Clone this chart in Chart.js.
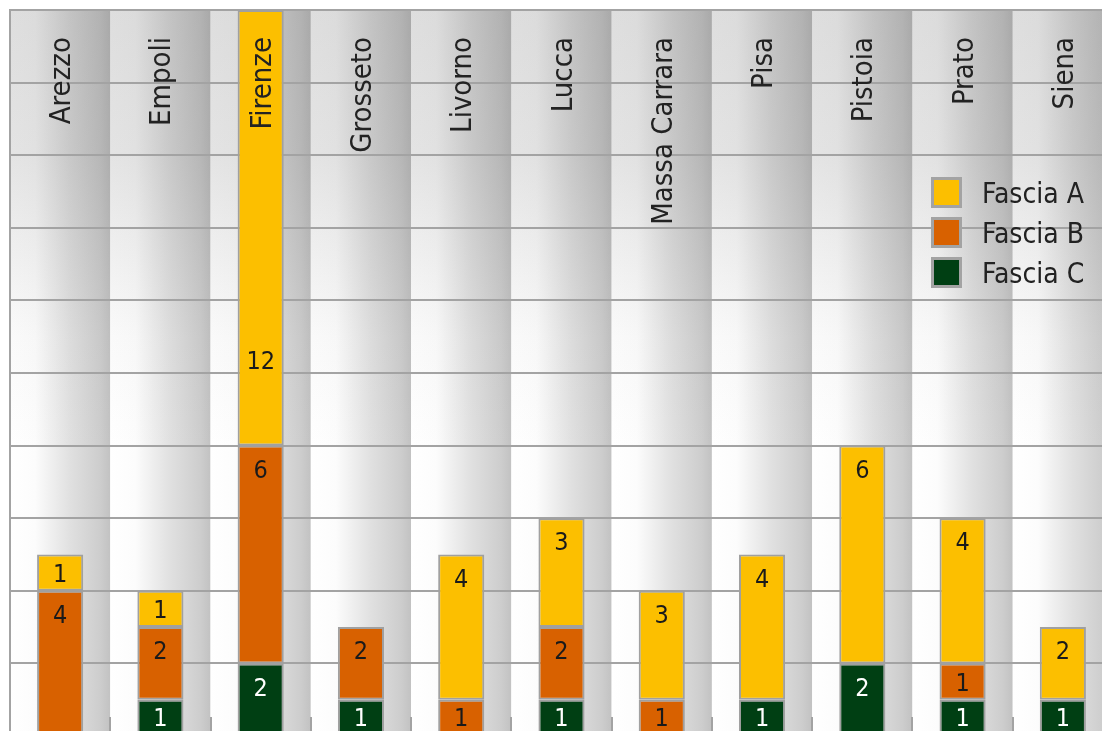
<!DOCTYPE html>
<html>
<head>
<meta charset="utf-8">
<script src="https://cdn.jsdelivr.net/npm/chart.js@4.4.1/dist/chart.umd.min.js"></script>
<style>
  html, body { margin: 0; padding: 0; background: #fff; overflow: hidden; }
  #wrap { position: absolute; left: 0; top: 0; width: 1123px; height: 746px; }
</style>
</head>
<body>
<div id="wrap"><canvas id="chart"></canvas></div>
<script>
// data
const categories = ['Arezzo', 'Empoli', 'Firenze', 'Grosseto', 'Livorno', 'Lucca', 'Massa Carrara', 'Pisa', 'Pistoia', 'Prato', 'Siena'];
const fasciaA = [1, 1, 12, 0, 4, 3, 3, 4, 6, 4, 2];
const fasciaB = [4, 2, 6, 2, 1, 2, 1, 0, 0, 1, 0];
const fasciaC = [0, 1, 2, 1, 0, 1, 0, 1, 2, 1, 1];
const yMax = 20;
const yStep = 2;

const FONT = '"DejaVu Sans Condensed", "DejaVu Sans", Verdana, sans-serif';
const GRID = '#a3a3a3';

// striped "column" background behind each category
const stripes = {
    id: 'stripes',
    beforeDraw(chart) {
        const { ctx, chartArea: { left, top, right, bottom } } = chart;
        const w = (right - left) / categories.length;
        ctx.save();
        for (let i = 0; i < categories.length; i++) {
            const x0 = left + i * w;
            const g = ctx.createLinearGradient(x0, 0, x0 + w, 0);
            g.addColorStop(0, '#ffffff');
            g.addColorStop(0.25, '#fcfcfc');
            g.addColorStop(0.6, '#e0e0e0');
            g.addColorStop(0.9, '#cdcdcd');
            g.addColorStop(1, '#c2c2c2');
            ctx.fillStyle = g;
            ctx.fillRect(x0, top, w, bottom - top);
        }
        // darker towards the top
        ctx.globalCompositeOperation = 'multiply';
        const v = ctx.createLinearGradient(0, top, 0, bottom);
        v.addColorStop(0, 'rgb(222,222,222)');
        v.addColorStop(0.2, 'rgb(228,228,228)');
        v.addColorStop(0.45, 'rgb(250,250,250)');
        v.addColorStop(0.6, 'rgb(255,255,255)');
        v.addColorStop(1, 'rgb(255,255,255)');
        ctx.fillStyle = v;
        ctx.fillRect(left, top, right - left, bottom - top);
        ctx.restore();
    },
    beforeDatasetsDraw(chart) {
        // small ticks between categories at the bottom
        const { ctx, chartArea: { left, right, bottom } } = chart;
        const w = (right - left) / categories.length;
        ctx.save();
        ctx.strokeStyle = GRID;
        ctx.lineWidth = 2;
        for (let i = 1; i < categories.length; i++) {
            const bx = Math.round(left + i * w);
            ctx.beginPath();
            ctx.moveTo(bx, bottom - 19);
            ctx.lineTo(bx, bottom);
            ctx.stroke();
        }
        ctx.restore();
    }
};

// numbers in the segments + category names on top
const labelsPlugin = {
    id: 'labelsPlugin',
    afterDatasetsDraw(chart) {
        const { ctx, chartArea, scales: { x, y } } = chart;
        ctx.save();
        ctx.font = '25px ' + FONT;
        ctx.textAlign = 'center';
        ctx.textBaseline = 'alphabetic';
        const cap = 25 * 0.729;
        chart.data.datasets.forEach((ds, di) => {
            const meta = chart.getDatasetMeta(di);
            meta.data.forEach((bar, i) => {
                const v = ds.data[i];
                if (!v) return;
                const segTop = Math.max(bar.y, y.getPixelForValue(11));
                const h = bar.base - bar.y;
                const cy = segTop + Math.min(23, h / 2);
                ctx.fillStyle = ds.textColor;
                ctx.fillText(String(v), bar.x, cy + cap / 2);
            });
        });

        ctx.font = '29px ' + FONT;
        ctx.fillStyle = '#222';
        ctx.textAlign = 'right';
        categories.forEach((name, i) => {
            const px = x.getPixelForValue(i);
            ctx.save();
            ctx.translate(px + 10, chartArea.top + 27);
            ctx.rotate(-Math.PI / 2);
            ctx.fillText(name, 0, 0);
            ctx.restore();
        });
        ctx.restore();
    },
    afterDraw(chart) {
        // legend inside the plot, top to bottom A, B, C
        const { ctx, chartArea } = chart;
        const items = chart.data.datasets.slice().reverse();
        const bx = chartArea.right - 182;
        const by = chartArea.top + 167;
        ctx.save();
        ctx.font = '28px ' + FONT;
        ctx.textAlign = 'left';
        ctx.textBaseline = 'alphabetic';
        items.forEach((ds, k) => {
            const yy = by + k * 40;
            ctx.fillStyle = ds.backgroundColor;
            ctx.fillRect(bx + 1.5, yy + 1.5, 28, 28);
            ctx.strokeStyle = GRID;
            ctx.lineWidth = 3;
            ctx.strokeRect(bx + 1.5, yy + 1.5, 28, 28);
            ctx.fillStyle = '#222';
            ctx.fillText(ds.label, bx + 51, yy + 15.5 + 28 * 0.729 / 2);
        });
        ctx.restore();
    }
};

const toBar = (arr) => arr.map((v) => (v === 0 ? null : v));

new Chart(document.getElementById('chart'), {
    type: 'bar',
    data: {
        labels: categories,
        datasets: [
            { label: 'Fascia C', data: toBar(fasciaC), backgroundColor: '#003f13', textColor: '#ffffff' },
            { label: 'Fascia B', data: toBar(fasciaB), backgroundColor: '#d86100', textColor: '#1a1a1a' },
            { label: 'Fascia A', data: toBar(fasciaA), backgroundColor: '#fcbf00', textColor: '#1a1a1a' },
        ],
    },
    options: {
        responsive: true,
        maintainAspectRatio: false,
        animation: false,
        layout: { padding: { left: 10, right: 10, top: 10, bottom: 10 } },
        datasets: {
            bar: {
                barPercentage: 1,
                categoryPercentage: 0.46,
                borderColor: '#a0a0a0',
                borderWidth: 2,
                borderSkipped: false,
            },
        },
        plugins: {
            legend: { display: false },
            tooltip: { enabled: false },
        },
        scales: {
            x: { display: false, stacked: true },
            y: {
                stacked: true,
                min: 0,
                max: yMax,
                ticks: { display: false, stepSize: yStep },
                grid: { color: GRID, lineWidth: 2, drawTicks: false },
                border: { color: GRID, width: 2 },
            },
        },
    },
    plugins: [stripes, labelsPlugin],
});
</script>
</body>
</html>
